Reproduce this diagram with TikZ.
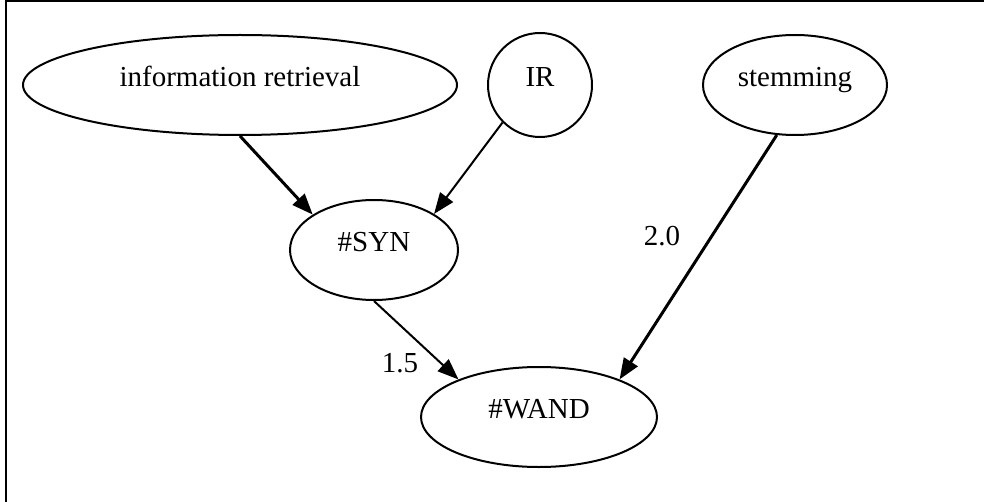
\documentclass[tikz,border=0pt]{standalone}
\usepackage{fontspec}
\setmainfont{Liberation Serif}
\usetikzlibrary{shapes.geometric, arrows.meta}
\tikzset{
    term/.style={ellipse, draw, line width=1pt, inner sep=0pt, minimum height=50pt, text height=9pt, text depth=7.4pt, font=\fontsize{14.5}{16}\selectfont},
    link/.style={-{Triangle[length=10.5pt, width=8pt]}, line width=1pt},
    heavy/.style={link, line width=1.5pt},
    wt/.style={font=\fontsize{14.5}{16}\selectfont}
}

\begin{document}
\begin{tikzpicture}[x=0.5pt, y=-0.5pt]
    \useasboundingbox (0,0) rectangle (984,502);
    \draw[line width=1pt] (5.7,502) -- (5.7,1) -- (984,1);
    \node[term, minimum width=217pt] (info) at (240,85) {information retrieval};
    \node[term, circle, minimum size=52pt] (ir) at (540,85) {IR};
    \node[term, minimum width=92pt] (stem) at (795,85) {stemming};
    \node[term, minimum width=84pt] (syn) at (374,250) {\#SYN};
    \node[term, minimum width=118pt] (wand) at (539,417) {\#WAND};
    \draw[heavy] (info.south) -- (syn.150);
    \draw[link] (ir.225) -- (syn.31);
    \draw[link] (syn.south) -- (wand.155);
    \draw[heavy] (stem.250) -- (wand.25);
    \node[wt] (w15) at (400,363) {1.5};
    \node[wt] (w20) at (662,236) {2.0};
\end{tikzpicture}
\end{document}
